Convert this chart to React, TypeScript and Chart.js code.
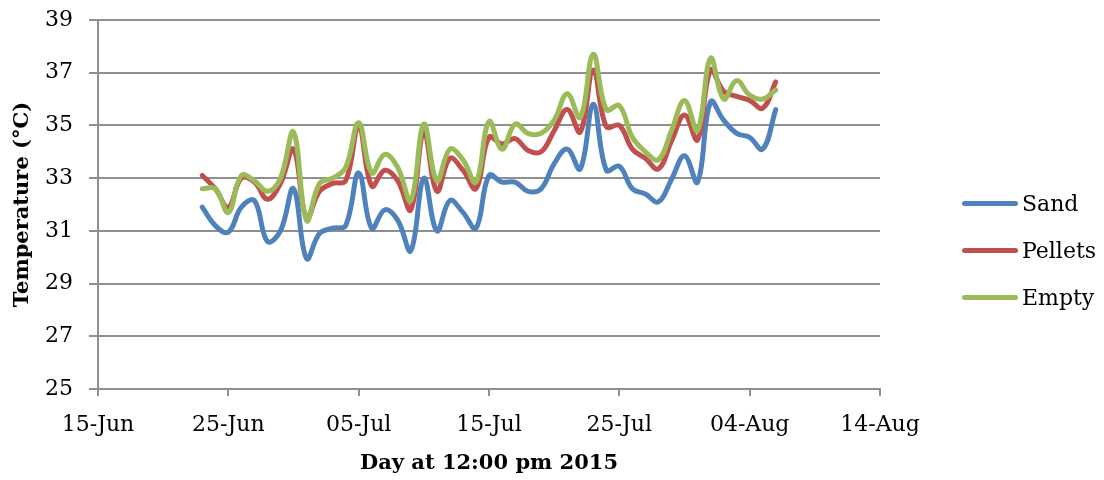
import React, { useEffect, useRef } from "react";
import { Chart, registerables } from "chart.js";

Chart.register(...registerables);

// ---- Data ----
const dates: string[] = [
  "2015-06-23", "2015-06-24", "2015-06-25", "2015-06-26", "2015-06-27", "2015-06-28", "2015-06-29", "2015-06-30",
  "2015-07-01", "2015-07-02", "2015-07-03", "2015-07-04", "2015-07-05", "2015-07-06", "2015-07-07", "2015-07-08",
  "2015-07-09", "2015-07-10", "2015-07-11", "2015-07-12", "2015-07-13", "2015-07-14", "2015-07-15", "2015-07-16",
  "2015-07-17", "2015-07-18", "2015-07-19", "2015-07-20", "2015-07-21", "2015-07-22", "2015-07-23", "2015-07-24",
  "2015-07-25", "2015-07-26", "2015-07-27", "2015-07-28", "2015-07-29", "2015-07-30", "2015-07-31", "2015-08-01",
  "2015-08-02", "2015-08-03", "2015-08-04", "2015-08-05", "2015-08-06",
];

const sand: number[] = [
  31.9, 31.2, 30.95, 31.9, 32.15, 30.6, 31.0, 32.6,
  29.95, 30.9, 31.1, 31.2, 33.2, 31.1, 31.8, 31.4,
  30.25, 33.0, 31.0, 32.15, 31.7, 31.1, 33.1, 32.85,
  32.85, 32.5, 32.6, 33.55, 34.1, 33.35, 35.8, 33.3,
  33.45, 32.6, 32.4, 32.1, 32.95, 33.85, 32.85, 35.9,
  35.2, 34.7, 34.55, 34.1, 35.6,
];

const pellets: number[] = [
  33.1, 32.6, 31.9, 33.0, 32.85, 32.2, 32.8, 34.1,
  31.5, 32.5, 32.8, 32.9, 34.95, 32.7, 33.3, 32.9,
  31.8, 34.75, 32.5, 33.75, 33.3, 32.6, 34.55, 34.3,
  34.5, 34.05, 34.0, 34.8, 35.6, 34.75, 37.1, 34.95,
  35.0, 34.1, 33.75, 33.35, 34.4, 35.4, 34.45, 37.1,
  36.3, 36.1, 35.95, 35.65, 36.65,
];

const empty: number[] = [
  32.6, 32.6, 31.7, 33.1, 32.9, 32.5, 33.0, 34.75,
  31.4, 32.8, 33.0, 33.4, 35.1, 33.2, 33.9, 33.4,
  32.15, 35.05, 32.9, 34.1, 33.7, 32.85, 35.15, 34.1,
  35.05, 34.7, 34.7, 35.2, 36.2, 35.3, 37.7, 35.6,
  35.75, 34.55, 34.0, 33.7, 34.8, 35.95, 34.8, 37.55,
  36.0, 36.7, 36.15, 36.0, 36.35,
];

const seriesNames: string[] = ["Sand", "Pellets", "Empty"];
const seriesColors: string[] = ["#4F81BD", "#C0504D", "#9BBB59"];

const xTickLabels: string[] = ["15-Jun", "25-Jun", "05-Jul", "15-Jul", "25-Jul", "04-Aug", "14-Aug"];
const xOrigin = "2015-06-15";
const yMin = 25;
const yMax = 39;
const yStep = 2;
const xStep = 10;

const yTitle = "Temperature (°C)";
const xTitle = "Day at 12:00 pm 2015";

const FONT = "'DejaVu Serif', 'Liberation Serif', serif";

function dayOffset(d: string): number {
  const [y, m, dd] = d.split("-").map(Number);
  const [oy, om, od] = xOrigin.split("-").map(Number);
  return (Date.UTC(y, m - 1, dd) - Date.UTC(oy, om - 1, od)) / 86400000;
}

export default function App() {
  const canvasRef = useRef<HTMLCanvasElement | null>(null);

  useEffect(() => {
    if (!canvasRef.current) return;
    const xs = dates.map(dayOffset);
    const all = [sand, pellets, empty];
    const grid = "#8f8f8f";
    const chart = new Chart(canvasRef.current, {
      type: "line",
      data: {
        datasets: all.map((vals, i) => ({
          label: seriesNames[i],
          data: vals.map((v, k) => ({ x: xs[k], y: v })),
          borderColor: seriesColors[i],
          backgroundColor: seriesColors[i],
          borderWidth: 5,
          pointRadius: 0,
          pointHoverRadius: 0,
          tension: 0.4,
          borderCapStyle: "round",
          borderJoinStyle: "round",
          fill: false,
          order: 3 - i,
        })),
      },
      options: {
        animation: false,
        responsive: false,
        maintainAspectRatio: false,
        layout: { padding: { top: 20, right: 224, left: 0, bottom: 0 } },
        plugins: {
          legend: { display: false },
          tooltip: { enabled: false },
        },
        scales: {
          x: {
            type: "linear",
            min: 0,
            max: (xTickLabels.length - 1) * xStep,
            afterFit: (s: any) => {
              s.height = 91;
              s.paddingLeft = 0;
              s.paddingRight = 0;
            },
            ticks: {
              stepSize: xStep,
              color: "#000",
              padding: 16,
              maxRotation: 0,
              autoSkip: false,
              font: { family: FONT, size: 22 },
              callback: (v: any) => {
                const idx = Math.round(Number(v) / xStep);
                return xTickLabels[idx] ?? "";
              },
            },
            grid: {
              display: true,
              drawOnChartArea: false,
              drawTicks: true,
              tickLength: 7,
              color: grid,
              lineWidth: 2,
            },
            border: { display: true, color: grid, width: 2 },
            title: {
              display: true,
              text: xTitle,
              color: "#000",
              font: { family: FONT, size: 21, weight: "bold" },
              padding: { top: 0, bottom: 4 },
            },
          },
          y: {
            type: "linear",
            min: yMin,
            max: yMax,
            afterFit: (s: any) => {
              s.width = 98;
              s.paddingTop = 0;
              s.paddingBottom = 0;
            },
            ticks: {
              stepSize: yStep,
              color: "#000",
              padding: 16,
              font: { family: FONT, size: 22 },
            },
            grid: {
              display: true,
              drawTicks: true,
              tickLength: 9,
              color: grid,
              lineWidth: 2,
            },
            border: { display: true, color: grid, width: 2 },
            title: {
              display: true,
              text: yTitle,
              color: "#000",
              font: { family: FONT, size: 21, weight: "bold" },
              padding: { top: 10, bottom: 0 },
            },
          },
        },
      },
    });
    return () => chart.destroy();
  }, []);

  return (
    <div style={{ position: "fixed", left: 0, top: 0, width: 1104, height: 480, background: "#fff" }}>
      <canvas ref={canvasRef} width={1104} height={480} style={{ position: "absolute", left: 0, top: 0 }} />
      <div style={{ position: "absolute", left: 962, top: 180, fontFamily: FONT, fontSize: 22, color: "#000" }}>
        {seriesNames.map((n, i) => (
          <div key={n} style={{ display: "flex", alignItems: "center", height: 47 }}>
            <div
              style={{
                width: 56,
                height: 5,
                borderRadius: 3,
                background: seriesColors[i],
                marginRight: 4,
              }}
            />
            <span>{n}</span>
          </div>
        ))}
      </div>
    </div>
  );
}
